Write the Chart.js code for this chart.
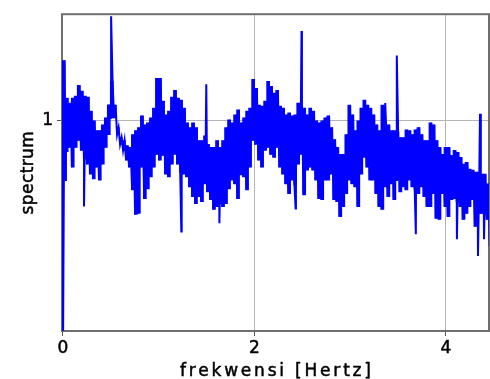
<!DOCTYPE html>
<html><head><meta charset="utf-8">
<script src="https://cdn.jsdelivr.net/npm/chart.js@4.4.1/dist/chart.umd.min.js"></script>
<style>html,body{margin:0;padding:0;background:#fff;}#wrap{width:490px;height:379px;}</style>
</head><body><div id="wrap"><canvas id="c" width="490" height="379"></canvas></div>
<script>
// frequency resolution of the spectrum (Hz)
const df = 0.0314;
// lower / upper edge of the dense band in each frequency bin
const lowVals = [0.75,0.75,0.780,0.649,0.780,0.832,0.759,0.70,0.667,0.608,
0.581,0.649,0.575,0.667,0.780,0.879,1.028,1.028,0.879,0.802,
0.759,0.692,0.649,0.525,0.417,0.421,0.649,0.483,0.530,0.592,
0.649,0.731,0.692,0.724,0.608,0.592,0.667,0.731,0.667,0.62,
0.608,0.592,0.540,0.492,0.461,0.492,0.470,0.555,0.515,0.479,
0.437,0.449,0.46,0.449,0.461,0.530,0.575,0.555,0.483,0.603,
0.592,0.525,0.649,0.832,0.802,0.692,0.649,0.759,0.780,0.731,
0.711,0.780,0.649,0.608,0.555,0.506,0.575,0.55,0.667,0.731,
0.501,0.631,0.649,0.631,0.575,0.483,0.479,0.575,0.575,0.608,
0.479,0.470,0.409,0.449,0.506,0.575,0.555,0.540,0.449,0.608,
0.711,0.649,0.575,0.575,0.506,0.449,0.437,0.540,0.492,0.555,
0.479,0.575,0.515,0.540,0.525,0.575,0.540,0.53,0.506,0.540,
0.492,0.449,0.449,0.506,0.402,0.398,0.506,0.449,0.409,0.479,
0.483,0.47,0.449,0.398,0.421,0.449,0.479,0.373,0.42,0.421,
0.42,0.398,0.310];
const highVals = [1.754,1.236,1.180,1.236,1.259,1.393,1.318,1.259,1.247,1.096,
1.000,0.912,0.912,0.964,1.028,1.160,1.45,1.159,0.938,0.855,
0.832,0.794,0.780,0.879,0.912,0.938,1.047,0.964,0.982,1.028,
1.127,1.486,1.486,1.202,1.057,1.096,1.247,1.330,1.236,1.213,
1.127,0.982,0.938,0.982,0.938,0.832,0.832,0.87,0.802,0.780,
0.780,0.832,0.780,0.832,0.938,1.009,0.982,1.057,1.107,0.982,
1.028,1.096,1.127,1.472,1.355,1.159,1.148,1.202,1.445,1.380,
1.294,1.330,1.148,1.127,1.057,1.076,1.047,1.057,1.180,1.15,
1.127,1.057,1.127,1.096,1.000,0.982,1.000,1.028,1.047,0.938,
0.839,0.780,0.731,0.731,0.879,1.159,1.057,0.912,1.000,1.127,
1.213,1.159,1.127,1.057,0.964,0.912,1.159,0.95,0.964,0.912,
0.912,0.90,0.855,0.855,0.920,0.912,0.879,0.920,0.938,0.879,
0.832,0.832,0.982,0.964,0.832,0.780,0.731,0.780,0.780,0.724,
0.759,0.745,0.711,0.667,0.679,0.637,0.631,0.619,0.62,0.608,
0.608,0.555,0.506];
// isolated narrow peaks: frequency (Hz) and value
const peakFreqs = [0.503, 1.497, 2.492, 3.366, 3.487, 4.356];
const peakVals  = [2.655, 1.406, 2.312, 1.180, 1.837, 1.067];
// isolated narrow dips: frequency (Hz) and value
const dipFreqs = [0.0, 0.031, 0.220, 1.236, 1.634, 2.430, 3.686, 4.115, 4.335, 4.398];
const dipVals  = [0.10, 0.575, 0.449, 0.356, 0.384, 0.441, 0.347, 0.331, 0.283, 0.331];
const xTicks = [0, 2, 4];
const yTicks = [1];
const xTitle = 'frekwensi [Hertz]';
const yTitle = 'spectrum';

const zig = [];
for (let k = 0; k < lowVals.length; k++) {
  zig.push({x: k * df, y: lowVals[k]});
  zig.push({x: k * df + df / 2, y: highVals[k]});
}
peakFreqs.forEach((f, i) => zig.push({x: f, y: peakVals[i]}));
dipFreqs.forEach((f, i) => zig.push({x: f, y: dipVals[i]}));
zig.sort((a, b) => a.x - b.x);
const band = lowVals.map((v, k) => ({x: k * df + df / 4, y: [v, highVals[k]]}));

const BLUE = '#0000ff';
const FONT = '"DejaVu Sans", Verdana, sans-serif';

const framePlugin = {
  id: 'frame',
  beforeDatasetsDraw(chart) {
    const {ctx, chartArea: a} = chart;
    ctx.save();
    ctx.strokeStyle = '#6e6e6e';
    ctx.lineWidth = 2;
    ctx.strokeRect(a.left, a.top, a.right - a.left, a.bottom - a.top);
    ctx.restore();
  }
};
function boldText(ctx, s, x, y) {
  ctx.fillText(s, x, y);
  ctx.strokeText(s, x, y);
}
const titlePlugin = {
  id: 'titles',
  afterDraw(chart) {
    const {ctx, chartArea: a} = chart;
    ctx.save();
    ctx.fillStyle = '#000';
    ctx.strokeStyle = '#000';
    ctx.lineWidth = 0.5;
    ctx.font = '17px ' + FONT;
    ctx.textAlign = 'center';
    ctx.textBaseline = 'alphabetic';
    ctx.letterSpacing = '2.8px';
    boldText(ctx, xTitle, (a.left + a.right) / 2 + 1.4, chart.height - 3.5);
    ctx.letterSpacing = '0.4px';
    ctx.translate(a.left - 29, (a.top + a.bottom) / 2);
    ctx.rotate(-Math.PI / 2);
    boldText(ctx, yTitle, 0, 0);
    ctx.restore();
  }
};

new Chart(document.getElementById('c'), {
  type: 'line',
  data: {
    datasets: [
      {type: 'line', data: zig, borderColor: BLUE, borderWidth: 2, pointRadius: 0, tension: 0, fill: false, order: 0},
      {type: 'bar', data: band, backgroundColor: BLUE, borderWidth: 0,
       barPercentage: 1, categoryPercentage: 1, order: 1}
    ]
  },
  options: {
    responsive: false,
    animation: false,
    devicePixelRatio: 1,
    layout: {padding: {top: 10, right: 1, left: 0, bottom: 0}},
    plugins: {legend: {display: false}, tooltip: {enabled: false}},
    scales: {
      x: {
        type: 'linear',
        offset: false,
        min: -0.01,
        max: 4.45,
        afterBuildTicks: (s) => { s.ticks = xTicks.map(v => ({value: v})); },
        afterFit: (s) => { s.height = 48; },
        grid: {color: '#b4b4b4', lineWidth: 1, tickLength: 5, tickColor: '#555', offset: false},
        border: {display: false},
        ticks: {color: '#000', font: {family: FONT, size: 17}, padding: 2, maxRotation: 0,
                textStrokeColor: '#000', textStrokeWidth: 0.5,
                callback: (v) => String(v)}
      },
      y: {
        type: 'logarithmic',
        min: 0.1406,
        max: 2.704,
        afterBuildTicks: (s) => { s.ticks = yTicks.map(v => ({value: v})); },
        afterFit: (s) => { s.width = 62; },
        grid: {color: '#b4b4b4', lineWidth: 1, tickLength: 5, tickColor: '#555'},
        border: {display: false},
        ticks: {color: '#000', font: {family: FONT, size: 17}, padding: 4,
                textStrokeColor: '#000', textStrokeWidth: 0.5,
                callback: (v) => String(v)}
      }
    }
  },
  plugins: [framePlugin, titlePlugin]
});
</script></body></html>
